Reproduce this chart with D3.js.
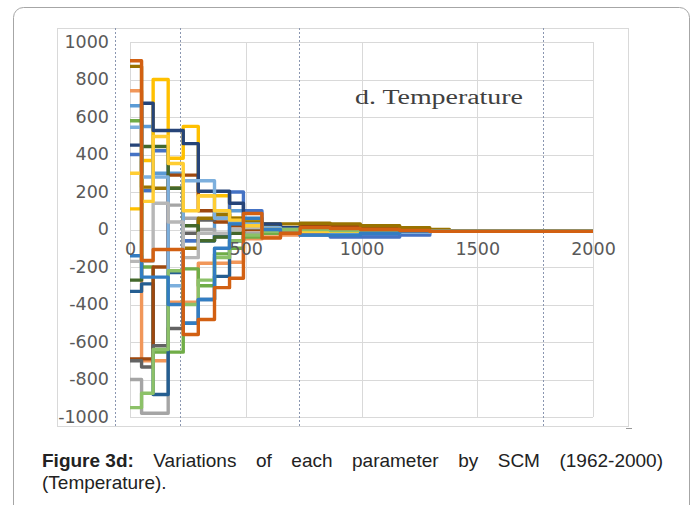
<!DOCTYPE html>
<html><head><meta charset="utf-8">
<script src="https://cdn.jsdelivr.net/npm/d3@7"></script>
<style>html,body{margin:0;padding:0;background:#fff;}svg{display:block;}</style>
</head><body>
<svg id="c" width="696" height="505"></svg>
<script>
// ---- data ----
const stepStarts = [0, 50, 100, 165, 230, 295, 365, 430, 490, 570, 650, 735, 865, 995, 1165, 1295, 1380];
const xEnd = 2000;
const xTicks = [0, 500, 1000, 1500, 2000];
const yTicks = [-1000, -800, -600, -400, -200, 0, 200, 400, 600, 800, 1000];
const seriesColors = ["#5B9BD5","#F1975A","#A5A5A5","#FFC000","#4472C4","#70AD47","#255E91","#9E480E","#636363","#997300","#264478","#43682B","#7CAFDD","#B7B7B7","#FFCD33","#8CC168","#327DC2","#D26012"];
const s1  = [660, 549, 300, 300, -60, -60, 100, 100, 40, 20, 0, -20, -30, -30, -20, -10, -10];
const s2  = [740, -700, -700, -388, -388, -180, -180, -175, -50, -40, -30, -20, -15, -10, -10, -10, -10];
const s3  = [-800, -980, -980, 130, 60, 0, -40, -60, -20, -20, -10, -10, -10, -10, -10, -10, -10];
const s4  = [110, 368, 800, 380, 550, 180, 180, 60, 40, 20, 10, 0, -5, -10, -10, -10, -10];
const s5  = [400, 208, 420, -228, -60, -60, -30, 200, 100, 10, -20, -30, -40, -40, -30, -10, -10];
const s6  = [580, -200, -654, -654, -210, -300, -130, -100, -40, -20, 0, 0, 5, 0, -10, -10, -10];
const s7  = [-330, -290, -880, -230, -500, -373, -250, -60, 20, 20, 10, 0, -10, -10, -10, -10, -10];
const s8  = [-690, -690, -200, 290, 290, 100, 40, 20, 0, 10, 10, 20, 20, 10, 0, -10, -10];
const s9  = [-700, -733, -620, -528, -20, 50, 60, 30, 10, 0, 0, -10, -10, -10, -10, -10, -10];
const s10 = [870, 226, 220, 220, -100, 60, 80, 60, 40, 30, 30, 33, 30, 20, 10, 0, -10];
const s11 = [450, 673, 528, 528, 458, 204, 204, 140, 20, 30, 10, 0, -10, -10, -10, -10, -10];
const s12 = [-270, 443, 443, 220, 20, -60, -40, -20, 10, 0, -10, -10, -10, -10, -10, -10, -10];
const s13 = [545, 280, 280, -300, 260, 260, 60, 40, 30, 10, 0, -10, -20, -20, -15, -10, -10];
const s14 = [-170, -170, 140, 40, -150, -20, -20, 0, 10, 0, -10, -10, -10, -10, -10, -10, -10];
const s15 = [300, 150, 496, 352, 100, 180, 100, 50, 20, 0, -10, -10, -10, -10, -10, -10, -10];
const s16 = [-950, -873, -640, -220, -400, -270, -150, -60, -30, -10, 0, 0, -5, -10, -10, -10, -10];
const s17 = [-140, -254, -254, -400, -500, -373, -100, 30, 60, 0, -20, -30, -30, -20, -10, -10, -10];
const s18 = [900, -165, -107, -107, -560, -480, -310, -260, 85, -45, -20, 10, 5, 0, -5, -10, -10];
const allSeries = [s1,s2,s3,s4,s5,s6,s7,s8,s9,s10,s11,s12,s13,s14,s15,s16,s17,s18];
const panelLabel = "d. Temperature";
const captionBold = "Figure 3d:";
const captionWords = ["Variations","of","each","parameter","by","SCM","(1962-2000)"];
const captionLine2 = "(Temperature).";

// ---- drawing ----
const svg = d3.select("#c");
svg.append("rect").attr("x",13.5).attr("y",7.5).attr("width",676).attr("height",510)
  .attr("rx",10).attr("fill","none").attr("stroke","#a6a6a6").attr("stroke-width",1);
svg.append("rect").attr("x",57.5).attr("y",28.5).attr("width",571).attr("height",398)
  .attr("fill","none").attr("stroke","#d9d9d9").attr("stroke-width",1);
svg.append("path").attr("d","M626,428.5H632").attr("stroke","#999").attr("stroke-width",1);

const x = d3.scaleLinear().domain([0,2000]).range([130,593]);
const y = d3.scaleLinear().domain([-1000,1000]).range([417,42]);

const g = svg.append("g");
g.selectAll(".hg").data(yTicks).join("line")
  .attr("x1",x(0)).attr("x2",x(2000)).attr("y1",d=>Math.round(y(d))+0.5).attr("y2",d=>Math.round(y(d))+0.5)
  .attr("stroke","#d9d9d9").attr("stroke-width",1);
g.selectAll(".vg").data(xTicks).join("line")
  .attr("x1",d=>Math.round(x(d))+0.5).attr("x2",d=>Math.round(x(d))+0.5).attr("y1",y(1000)).attr("y2",y(-1000))
  .attr("stroke","#d9d9d9").attr("stroke-width",1);

[115,180,299,543].forEach(px=>{
  svg.append("line").attr("x1",px+0.5).attr("x2",px+0.5).attr("y1",28).attr("y2",428)
    .attr("stroke","#8a96b0").attr("stroke-width",1).attr("stroke-dasharray","2,2");
});

const fmt = d => String(d);
const yAxis = d3.axisLeft(y).tickValues(yTicks).tickSize(0).tickPadding(0).tickFormat(fmt);
const ya = svg.append("g").attr("transform","translate(109,0)").call(yAxis);
ya.select(".domain").remove();
ya.selectAll("text").attr("font-family","DejaVu Sans").attr("font-size",17.5).attr("fill","#595959").attr("dy","0.3em");

const line = d3.line().x(d=>x(d[0])).y(d=>y(d[1])).curve(d3.curveStepAfter);
const lines = svg.append("g").attr("fill","none").attr("stroke-width",3.4).attr("stroke-linejoin","round");
allSeries.forEach((s,i)=>{
  const pts = stepStarts.map((sx,j)=>[sx,s[j]]);
  pts.push([xEnd, s[s.length-1]]);
  lines.append("path").attr("d",line(pts)).attr("stroke",seriesColors[i]);
});

const xAxis = d3.axisBottom(x).tickValues(xTicks).tickSize(0).tickPadding(0).tickFormat(fmt);
const xa = svg.append("g").attr("transform",`translate(0,${y(0)})`).call(xAxis);
xa.select(".domain").remove();
xa.selectAll("text").attr("font-family","DejaVu Sans").attr("font-size",17.5).attr("fill","#595959").attr("dy","0").attr("y",25);

svg.append("text").attr("x",355).attr("y",104).attr("font-family","Liberation Serif").attr("font-size",20.5)
  .attr("fill","#404040").attr("textLength",168).attr("lengthAdjust","spacingAndGlyphs").text(panelLabel);

// caption, line 1 justified
const cap = svg.append("g").attr("font-family","'Liberation Sans',Arial,sans-serif").attr("font-size",19).attr("fill","#222");
const lineWords = [{t:captionBold,b:true}].concat(captionWords.map(t=>({t,b:false})));
const nodes = lineWords.map(w=>cap.append("text").attr("y",467).attr("font-weight",w.b?"bold":"normal").text(w.t));
const widths = nodes.map(n=>n.node().getComputedTextLength());
const left=42, right=663;
const gap = (right-left-d3.sum(widths))/(nodes.length-1);
let cx = left;
nodes.forEach((n,i)=>{ n.attr("x",cx); cx += widths[i]+gap; });
cap.append("text").attr("x",left).attr("y",489).text(captionLine2);
</script>
</body></html>
